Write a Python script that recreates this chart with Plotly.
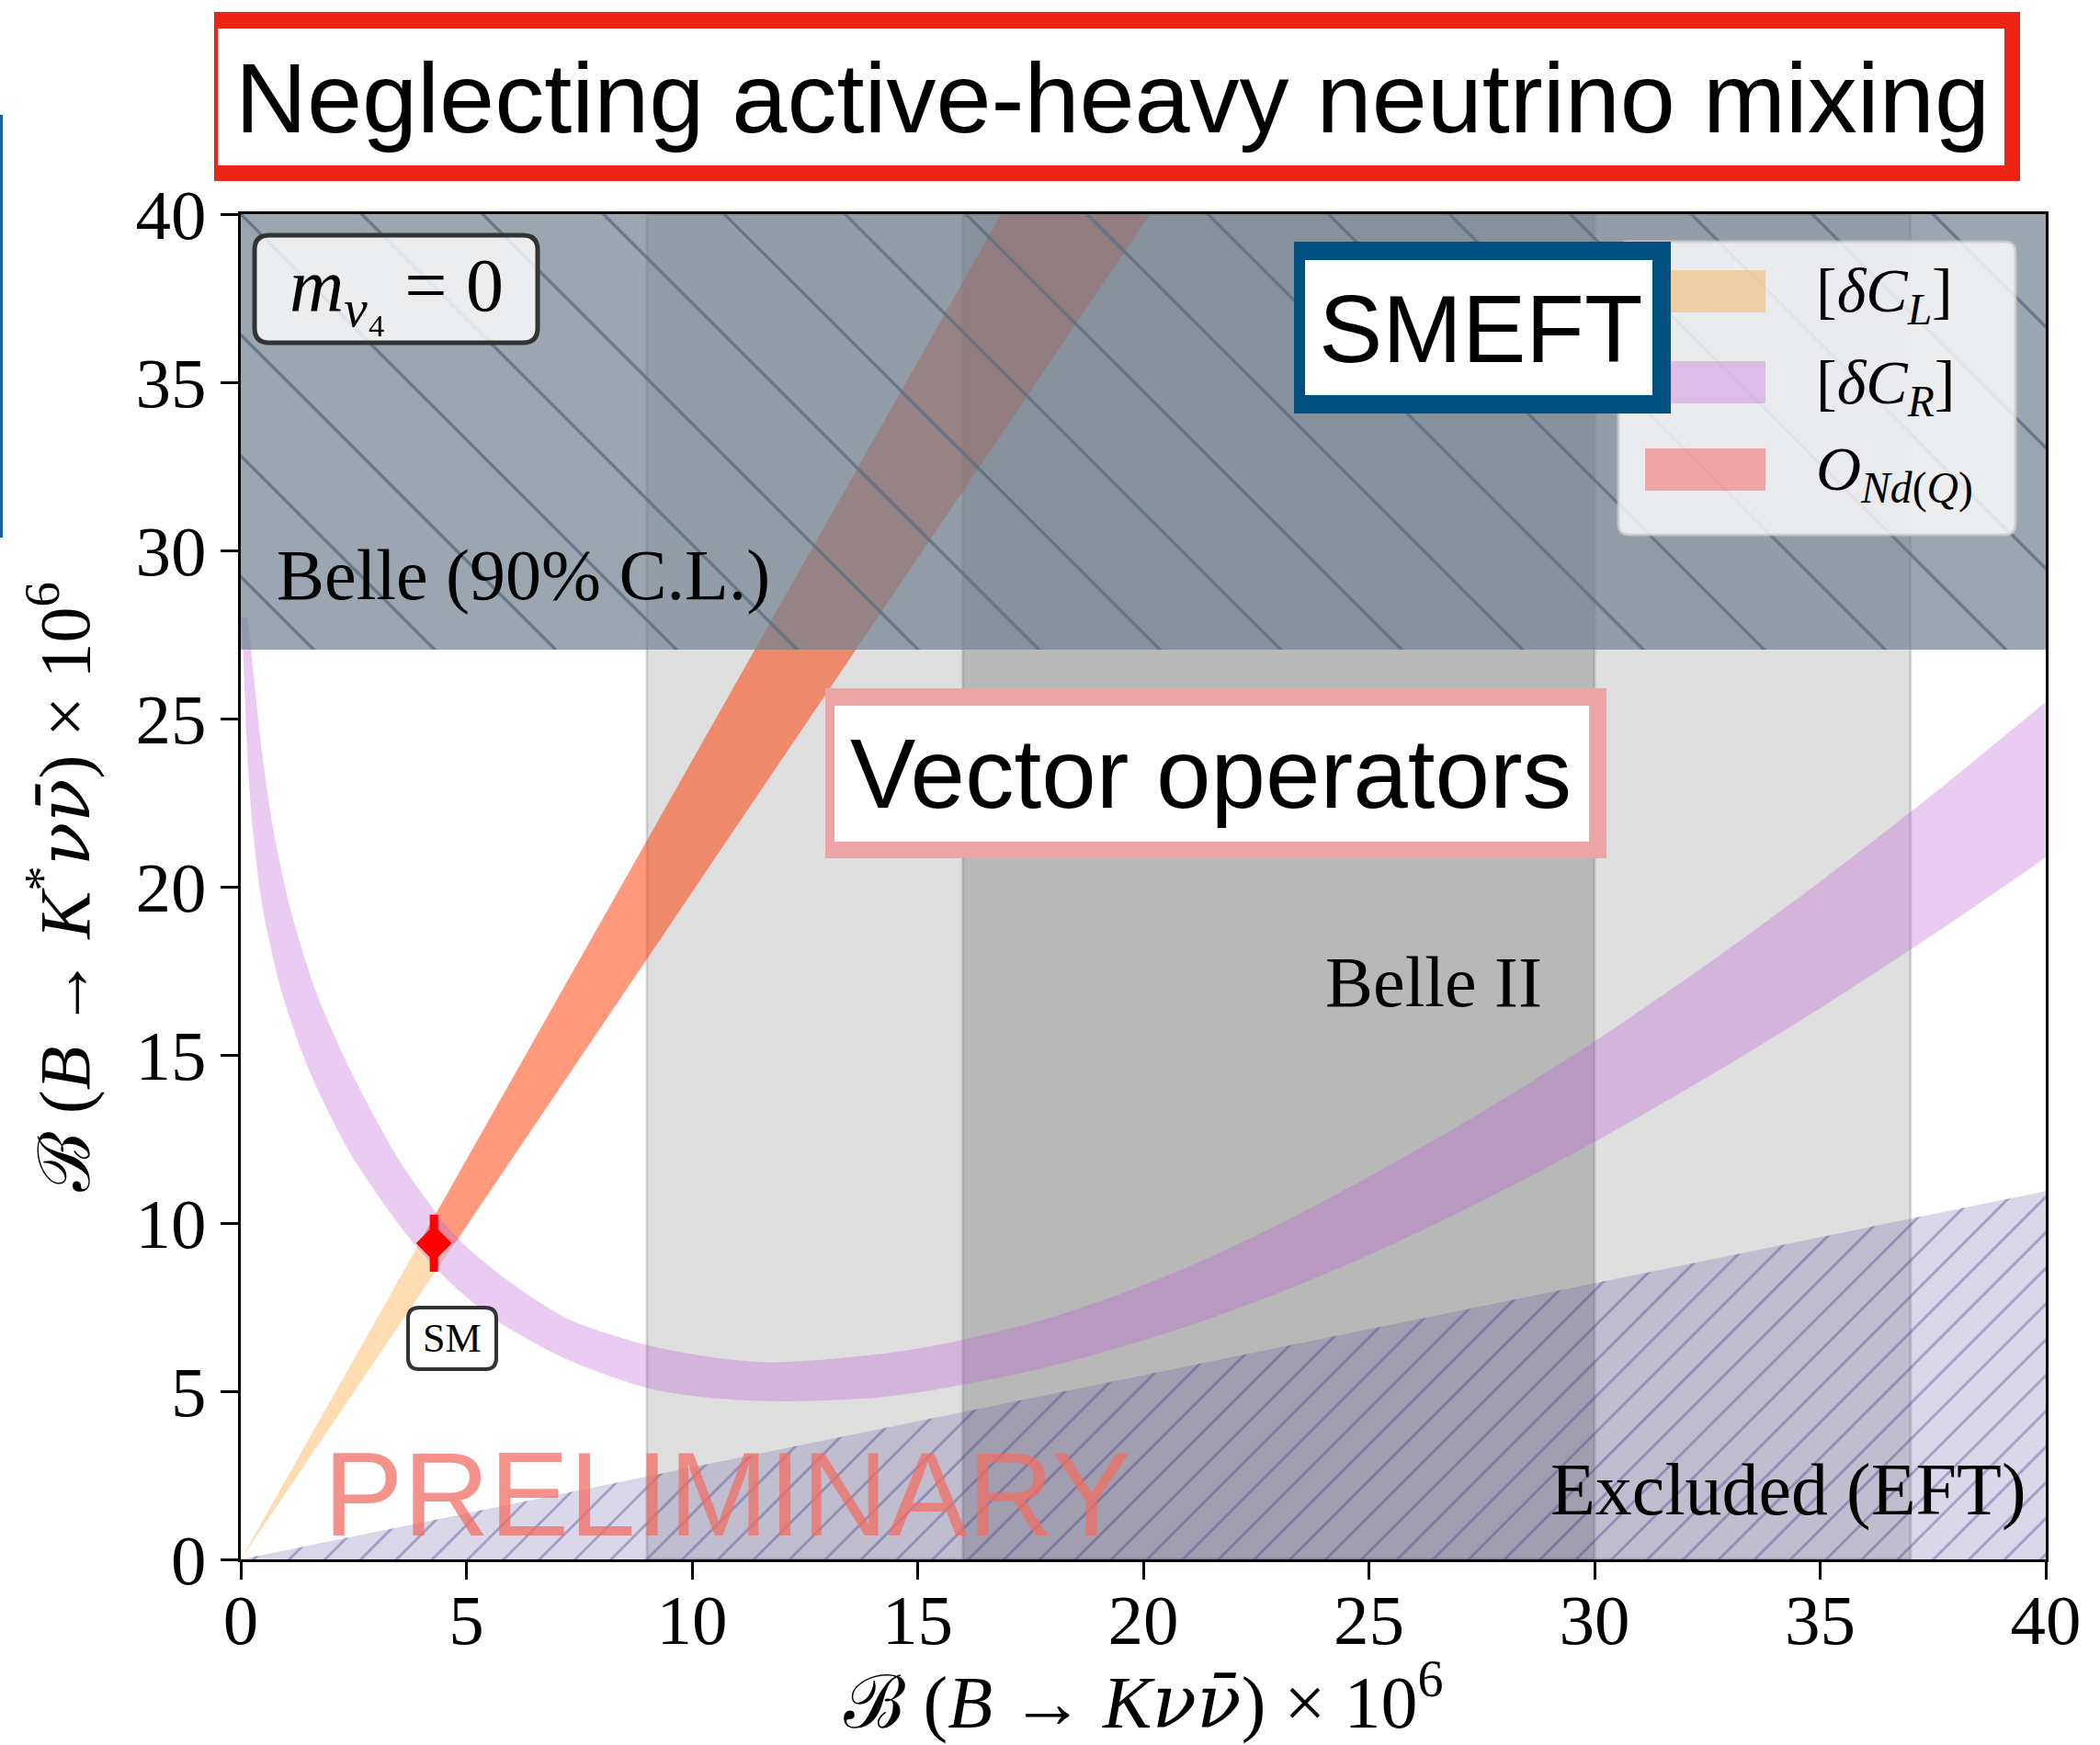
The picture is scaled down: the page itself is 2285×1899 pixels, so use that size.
import plotly.graph_objects as go

# ---------------- data ----------------
X_RANGE = [0, 40]
Y_RANGE = [0, 40]
TICKS = [0, 5, 10, 15, 20, 25, 30, 35, 40]
TICK_LABELS = ["0", "5", "10", "15", "20", "25", "30", "35", "40"]

# Belle II bands on B(B -> K nu nubar) x 1e6
belle2_outer = [9.0, 37.0]
belle2_inner = [16.0, 30.0]

# Belle 90% C.L. bound on B(B -> K* nu nubar) x 1e6
belle_limit = 27.05

# EFT-excluded region: upper boundary line
excl_x = [0.0, 40.0]
excl_y = [0.0, 10.95]

# [dC_L] wedge (starts at the origin)
dcl_left_x = [0.0, 16.85]
dcl_right_x = [0.0, 20.15]
dcl_y = [0.0, 40.0]

# O_Nd(Q) band (starts at the SM point)
ond_left_x = [3.95, 16.85]
ond_right_x = [4.75, 20.15]
ond_y = [9.4, 40.0]

# [dC_R] band : outer (lower/left) edge and inner (upper/right) edge
dcr_outer_x = [0.0, 0.05, 0.125, 0.26, 0.49, 0.90, 1.54, 2.45, 3.72, 4.54, 5.63,
               7.27, 9.08, 10.6, 11.99, 14.25, 15.93, 17.75, 19.57, 21.39, 23.21,
               25.03, 26.85, 28.66, 30.0, 32.5, 35.0, 37.5, 40.0]
dcr_outer_y = [28.0, 27.0, 24.5, 21.78, 19.34, 16.90, 14.46, 12.02, 9.58, 8.36, 7.14,
               5.92, 5.07, 4.78, 4.70, 4.83, 5.17, 5.68, 6.34, 7.12, 8.03,
               9.07, 10.22, 11.45, 12.41, 14.34, 16.39, 18.57, 20.87]
dcr_inner_x = [0.15, 0.23, 0.47, 0.71, 1.10, 1.66, 2.46, 3.44, 4.06, 4.78, 5.85,
               7.27, 9.08, 10.5, 11.72, 13.0, 14.25, 15.02, 15.93, 17.75, 19.57,
               21.39, 23.21, 25.03, 26.85, 28.66, 30.0, 32.5, 35.0, 37.5, 40.0]
dcr_inner_y = [28.0, 27.0, 24.0, 21.78, 19.34, 16.90, 14.46, 12.02, 10.80, 9.58, 8.36,
               7.14, 6.35, 6.0, 5.86, 5.95, 6.12, 6.27, 6.51, 7.11, 7.93,
               8.93, 10.10, 11.40, 12.78, 14.25, 15.40, 17.70, 20.15, 22.75, 25.5]

# SM prediction
sm_x = [4.28]
sm_y = [9.4]
sm_yerr = [0.85]

legend_labels = ["[<i>δC</i><sub><i>L</i></sub>]",
                 "[<i>δC</i><sub><i>R</i></sub>]",
                 "<i>O</i><sub><i>Nd</i>(<i>Q</i>)</sub>"]

# ---------------- styles ----------------
C_DCL = "rgba(255,140,0,0.3)"
C_DCR = "rgba(186,85,211,0.3)"
C_OND = "rgba(255,0,0,0.3)"
C_BELLE = "rgba(112,128,144,0.7)"
C_EXCL = "rgba(72,61,139,0.2)"
SERIF = "Liberation Serif"
SANS = "Liberation Sans"
NU = "<span style='font-family:DejaVu Serif'><i>νν̄</i></span>"

W, H = 2285, 1899
PL, PR, PT, PB = 262, 2226, 233, 1697


def px(x):
    return (x - PL) / (PR - PL)


def py(y):
    return (PB - y) / (PB - PT)


def rrect(x0, y0, x1, y1, r):
    return ("M{a},{b} L{c},{b} Q{d},{b} {d},{e} L{d},{f} Q{d},{g} {c},{g} "
            "L{a},{g} Q{h},{g} {h},{f} L{h},{e} Q{h},{b} {a},{b} Z").format(
        a=px(x0 + r), b=py(y0), c=px(x1 - r), d=px(x1), e=py(y0 + r),
        f=py(y1 - r), g=py(y1), h=px(x0))


fig = go.Figure()

# [dC_L] wedge
fig.add_trace(go.Scatter(
    x=dcl_left_x + dcl_right_x[::-1], y=dcl_y + dcl_y[::-1],
    fill="toself", fillcolor=C_DCL, mode="lines", line=dict(width=0),
    hoverinfo="skip", showlegend=False))
# O_Nd(Q) band
fig.add_trace(go.Scatter(
    x=ond_left_x + ond_right_x[::-1], y=ond_y + ond_y[::-1],
    fill="toself", fillcolor=C_OND, mode="lines", line=dict(width=0),
    hoverinfo="skip", showlegend=False))
# [dC_R] band (two smoothed edges, filled between them)
fig.add_trace(go.Scatter(
    x=dcr_outer_x, y=dcr_outer_y, mode="lines",
    line=dict(width=0, shape="spline", smoothing=0.8),
    hoverinfo="skip", showlegend=False))
fig.add_trace(go.Scatter(
    x=dcr_inner_x, y=dcr_inner_y, mode="lines", fill="tonexty", fillcolor=C_DCR,
    line=dict(width=0, shape="spline", smoothing=0.8),
    hoverinfo="skip", showlegend=False))

# Excluded (EFT) region
ex_poly_x = [excl_x[0], excl_x[1], excl_x[1], excl_x[0]]
ex_poly_y = [excl_y[0], excl_y[1], Y_RANGE[0], Y_RANGE[0]]
fig.add_trace(go.Scatter(x=ex_poly_x, y=ex_poly_y, fill="toself", fillcolor=C_EXCL,
                         mode="lines", line=dict(width=0), hoverinfo="skip", showlegend=False))
fig.add_trace(go.Scatter(x=ex_poly_x, y=ex_poly_y, fill="toself", mode="lines",
                         line=dict(width=0), hoverinfo="skip", showlegend=False,
                         fillcolor="rgba(0,0,0,0)",
                         fillpattern=dict(shape="/", size=27.5, solidity=0.1,
                                          fgcolor="rgba(72,61,139,1)", fgopacity=0.4,
                                          fillmode="replace")))

# Belle 90% C.L. region
be_poly_x = [X_RANGE[0], X_RANGE[1], X_RANGE[1], X_RANGE[0]]
be_poly_y = [belle_limit, belle_limit, Y_RANGE[1], Y_RANGE[1]]
fig.add_trace(go.Scatter(x=be_poly_x, y=be_poly_y, fill="toself", fillcolor=C_BELLE,
                         mode="lines", line=dict(width=0), hoverinfo="skip", showlegend=False))
fig.add_trace(go.Scatter(x=be_poly_x, y=be_poly_y, fill="toself", mode="lines",
                         line=dict(width=0), hoverinfo="skip", showlegend=False,
                         fillcolor="rgba(0,0,0,0)",
                         fillpattern=dict(shape="\\", size=93, solidity=0.036,
                                          fgcolor="rgba(96,112,128,1)", fgopacity=0.85,
                                          fillmode="replace")))

# SM point
fig.add_trace(go.Scatter(
    x=sm_x, y=sm_y, mode="markers",
    marker=dict(symbol="diamond", size=30, color="red", line=dict(width=0)),
    error_y=dict(type="data", array=sm_yerr, thickness=9, width=0, color="red"),
    hoverinfo="skip", showlegend=False))

shapes = []
# Belle II bands
for (a, b), col in ((belle2_outer, "rgba(128,128,128,0.25)"),
                    (belle2_inner, "rgba(128,128,128,0.41)")):
    shapes.append(dict(type="rect", xref="x", yref="y", x0=a, x1=b,
                       y0=Y_RANGE[0], y1=Y_RANGE[1], fillcolor=col,
                       line=dict(color="rgba(128,128,128,0.3)", width=3), layer="below"))

# legend (custom drawn)
shapes.append(dict(type="path", xref="paper", yref="paper",
                   path=rrect(1761, 263, 2193, 582, 12),
                   fillcolor="rgba(255,255,255,0.8)",
                   line=dict(color="rgba(204,204,204,0.8)", width=3), layer="above"))
patch_tops = [294, 393, 488]
for top, col in zip(patch_tops, [C_DCL, C_DCR, C_OND]):
    shapes.append(dict(type="rect", xref="paper", yref="paper",
                       x0=px(1790), x1=px(1921), y0=py(top + 46), y1=py(top),
                       fillcolor=col, line=dict(width=0), layer="above"))


def framed(x0, y0, x1, y1, ix0, iy0, ix1, iy1, color):
    shapes.append(dict(type="rect", xref="paper", yref="paper",
                       x0=px(x0), x1=px(x1), y0=py(y1), y1=py(y0),
                       fillcolor=color, line=dict(width=0), layer="above"))
    shapes.append(dict(type="rect", xref="paper", yref="paper",
                       x0=px(ix0), x1=px(ix1), y0=py(iy1), y1=py(iy0),
                       fillcolor="white", line=dict(width=0), layer="above"))


framed(233, 13, 2198, 197, 237, 31, 2181, 180, "#ec2415")     # title
framed(1408, 263, 1818, 450, 1420, 283, 1798, 430, "#005082")  # SMEFT
framed(898, 749, 1748, 934, 908, 768, 1729, 916, "#eda4a6")    # Vector operators

# m_nu4 box and SM box
shapes.append(dict(type="path", xref="paper", yref="paper",
                   path=rrect(277, 256, 585, 373, 16),
                   fillcolor="rgba(255,255,255,0.8)",
                   line=dict(color="#333333", width=5), layer="above"))
shapes.append(dict(type="path", xref="paper", yref="paper",
                   path=rrect(444, 1423, 540, 1490, 12),
                   fillcolor="rgba(255,255,255,0.8)",
                   line=dict(color="#333333", width=4), layer="above"))
# cut-off blue line at the left border of the slide
shapes.append(dict(type="line", xref="paper", yref="paper",
                   x0=px(1.5), x1=px(1.5), y0=py(125), y1=py(585),
                   line=dict(color="#1a5e9a", width=3), layer="above"))

ann = []


def text(x, y, t, size, family=SERIF, color="black", xa="center", ya="middle"):
    ann.append(dict(x=px(x), y=py(y), xref="paper", yref="paper", text=t,
                    showarrow=False, xanchor=xa, yanchor=ya,
                    font=dict(family=family, size=size, color=color)))


text(1210, 107, "Neglecting active-heavy neutrino mixing", 108, SANS)
text(1611, 358, "SMEFT", 104, SANS)
text(1317, 842, "Vector operators", 107, SANS)
text(350, 1626, "PRELIMINARY", 130, SANS, "rgba(240,110,100,0.75)", xa="left")
text(431, 316, "<i>m</i><sub><i>ν</i>₄</sub> = 0", 82)
text(492, 1456, "SM", 44)
text(299, 625, "Belle (90% C.L.)", 78, xa="left")
text(1560, 1068, "Belle II", 78)
text(2207, 1621, "Excluded (EFT)", 80, xa="right")
for lab, top in zip(legend_labels, patch_tops):
    text(1974, top + 27, lab, 68, xa="left")

fig.update_layout(
    width=W, height=H,
    margin=dict(l=PL, r=W - PR, t=PT, b=H - PB, pad=0, autoexpand=False),
    paper_bgcolor="white", plot_bgcolor="white",
    shapes=shapes, annotations=ann, showlegend=False,
    font=dict(family=SERIF, color="black"),
)
axis_common = dict(tickvals=TICKS, ticktext=TICK_LABELS, automargin=False,
                   showgrid=False, zeroline=False, showline=True, mirror=True,
                   linecolor="black", linewidth=3, ticks="outside", ticklen=19,
                   tickwidth=3, tickcolor="black",
                   tickfont=dict(family=SERIF, size=77, color="black"))
fig.update_xaxes(**axis_common, range=X_RANGE, ticklabelstandoff=-22,
                 title=dict(text="ℬ (<i>B</i> → <i>K</i>" + NU + ") × 10<sup>6</sup>",
                            font=dict(family=SERIF, size=80), standoff=52))
fig.update_yaxes(**axis_common, range=Y_RANGE,
                 title=dict(text="ℬ (<i>B</i> → <i>K</i><sup>*</sup>" + NU + ") × 10<sup>6</sup>",
                            font=dict(family=SERIF, size=78), standoff=25))

fig.write_html("out.html")
